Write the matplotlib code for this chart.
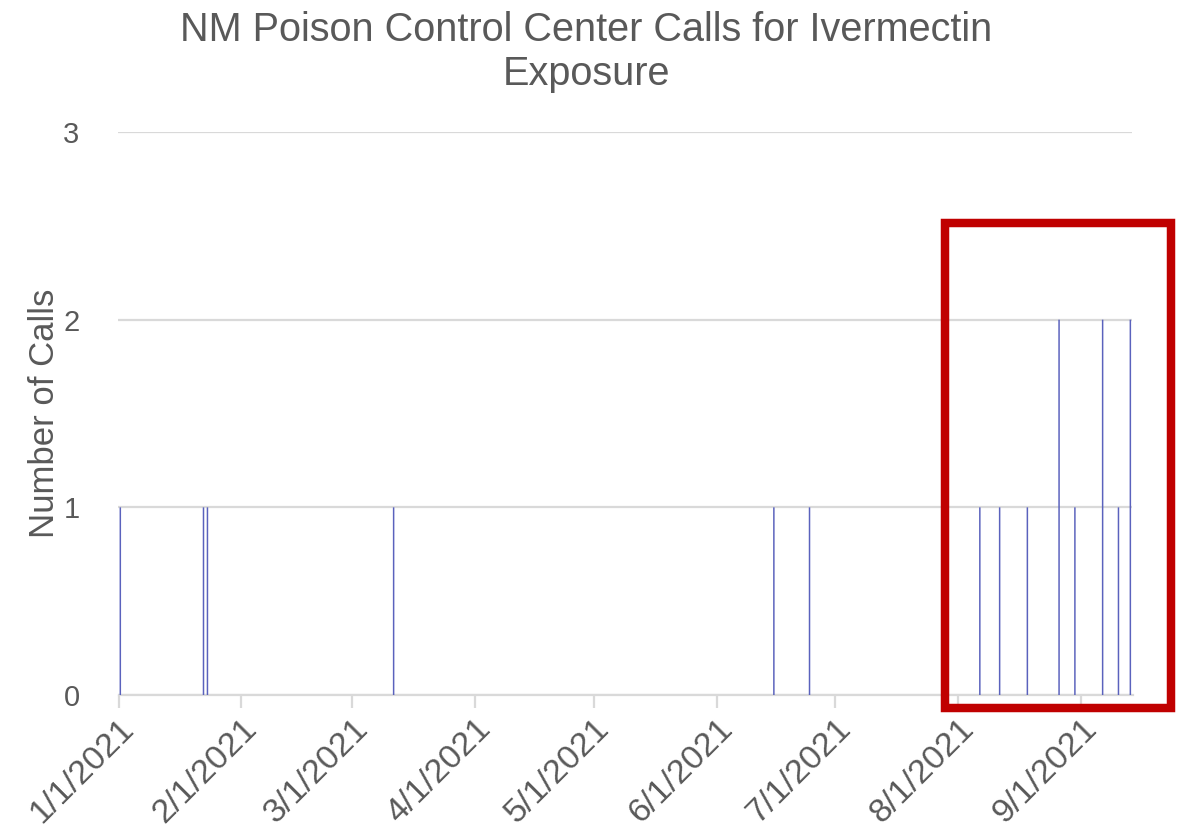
import pandas as pd
import matplotlib.pyplot as plt
import matplotlib.dates as mdates
from matplotlib.patches import Rectangle

# Daily call counts (only days with at least one call)
call_dates = ["2021-01-01", "2021-01-22", "2021-01-23", "2021-03-11",
              "2021-06-15", "2021-06-24",
              "2021-08-06", "2021-08-11", "2021-08-18", "2021-08-26",
              "2021-08-30", "2021-09-06", "2021-09-10", "2021-09-13"]
call_counts = [1, 1, 1, 1,
               1, 1,
               1, 1, 1, 2,
               1, 2, 1, 2]
month_ticks = ["2021-01-01", "2021-02-01", "2021-03-01", "2021-04-01", "2021-05-01",
               "2021-06-01", "2021-07-01", "2021-08-01", "2021-09-01"]

dates = pd.to_datetime(call_dates) + pd.Timedelta(hours=11)
ticks = pd.to_datetime(month_ticks)

W, H = 1198, 835
fig = plt.figure(figsize=(W / 100, H / 100), dpi=100)
ax = fig.add_axes([118.5 / W, 1 - 695 / H, (1132.5 - 118.5) / W, (695 - 132) / H])

grey = "#595959"
grid = "#d9d9d9"
font = "Liberation Sans"

bars = ax.bar(dates, call_counts, width=0.38, color="#5a62bd", linewidth=0, zorder=3)
for b in bars:
    b.set_snap(False)

ax.set_xlim(pd.Timestamp("2021-01-01"), pd.Timestamp("2021-09-14"))
ax.set_ylim(0, 3)
ax.set_yticks([0, 1, 2, 3])
ax.yaxis.grid(True, color=grid, linewidth=1.6, zorder=0)
ax.set_axisbelow(True)

for side in ["top", "right", "left"]:
    ax.spines[side].set_visible(False)
ax.spines["bottom"].set_color(grid)
ax.spines["bottom"].set_linewidth(1.6)

ax.set_xticks(ticks)
ax.xaxis.set_major_formatter(mdates.DateFormatter("%-m/%-d/%Y"))
ax.tick_params(axis="x", direction="out", length=9, width=1.6, color=grid,
               labelsize=24.5, labelcolor=grey, pad=4)
ax.tick_params(axis="y", length=0, labelsize=21, labelcolor=grey, pad=28)
for lbl in ax.get_xticklabels():
    lbl.set_rotation(45)
    lbl.set_ha("right")
    lbl.set_va("top")
    lbl.set_rotation_mode("anchor")
    lbl.set_family(font)
for lbl in ax.get_yticklabels():
    lbl.set_family(font)

ax.set_ylabel("Number of Calls", fontsize=25, color=grey, family=font, labelpad=2)

fig.text(586 / W, 1 - 52 / H, "NM Poison Control Center Calls for Ivermectin\nExposure",
         ha="center", va="center", fontsize=28.5, color=grey, family=font, linespacing=1.2)

# Highlight box around the recent cluster of calls
box = Rectangle((944.7 / W, 1 - 708.3 / H), (1171 - 944.7) / W, (708.3 - 223.3) / H,
                transform=fig.transFigure, fill=False, edgecolor="#c00000",
                linewidth=6.1, zorder=10)
fig.patches.append(box)

fig.savefig("out.png", dpi=100, facecolor="white")
